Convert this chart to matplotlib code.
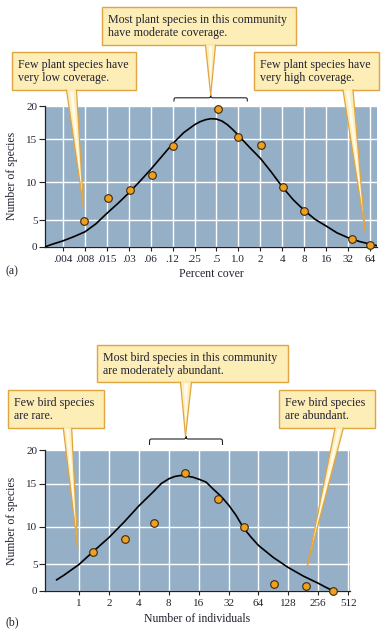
import numpy as np
import matplotlib
matplotlib.use("Agg")
import matplotlib.pyplot as plt
from matplotlib.patches import Rectangle, Polygon, PathPatch
from matplotlib.path import Path

plt.rcParams['font.family'] = ['Liberation Serif', 'DejaVu Serif']

# ---------------- data ----------------
# Panel (a): percent cover
a_tick_vals = [2**-8, 2**-7, 2**-6, 2**-5, 2**-4, 2**-3, 2**-2, 2**-1, 1, 2, 4, 8, 16, 32, 64]
a_tick_labels = [".004", ".008", ".015", ".03", ".06", ".12", ".25", ".5", "1.0",
                 "2", "4", "8", "16", "32", "64"]
a_pts_x = [0.0075, 0.0162, 0.0326, 0.066, 0.125, 0.53, 1.0, 2.04, 4.14, 8.0, 36.3, 64.0]
a_pts_y = [4.83, 7.96, 8.94, 10.85, 14.26, 19.5, 15.3, 14.37, 9.38, 6.23, 1.44, 0.37]
a_curve_log2x = [-8.8, -8.5, -8, -7.5, -7, -6.5, -6, -5.5, -5, -4.5, -4, -3.5, -3, -2.5,
                 -2, -1.75, -1.5, -1.25, -1, -0.75, -0.5, -0.25, 0, 0.5, 1, 1.5, 2, 2.5,
                 3, 3.5, 4, 4.5, 5, 5.5, 6, 6.3]
a_curve_y = [0.0, 0.45, 1.1, 1.9, 2.8, 4.3, 5.9, 7.2, 8.6, 10.1, 11.5, 13.0, 14.5, 16.0,
             17.2, 17.65, 17.95, 18.1, 18.05, 17.75, 17.2, 16.45, 15.6, 14.1, 12.8, 11.2,
             9.4, 7.7, 6.3, 5.1, 3.9, 2.6, 1.7, 1.0, 0.5, 0.2]

# Panel (b): number of individuals
b_tick_vals = [1, 2, 4, 8, 16, 32, 64, 128, 256, 512]
b_tick_labels = ["1", "2", "4", "8", "16", "32", "64", "128", "256", "512"]
b_pts_x = [1.39, 2.91, 5.66, 11.6, 24.9, 46.2, 91.8, 192.7, 357.0]
b_pts_y = [6.66, 8.33, 10.4, 16.55, 13.2, 10.0, 1.25, 0.94, 0.0]
b_curve_log2x = [-0.75, -0.5, 0, 0.5, 1, 1.5, 2, 2.5, 2.75, 3, 3.2, 3.4, 3.6, 3.8, 4,
                 4.25, 4.5, 4.75, 5, 5.25, 5.5, 5.75, 6, 6.5, 7, 7.5, 8, 8.25, 8.46]
b_curve_y = [2.1, 3.0, 5.0, 6.8, 8.55, 10.5, 12.4, 14.1, 15.0, 15.7, 16.05, 16.2, 16.1,
             15.95, 15.65, 15.2, 14.3, 13.5, 12.5, 11.3, 9.8, 8.6, 7.5, 5.9, 4.4, 2.8,
             1.45, 0.7, 0.13]

y_ticks = [0, 5, 10, 15, 20]

# ---------------- styling ----------------
BG = "#95AFC7"
PT_FACE = "#F0A01E"
PT_EDGE = "#3a2a10"
BOX_FACE = "#FDEDB6"
BOX_EDGE = "#E0A540"
TXT = "#222230"

W, H = 388, 633
fig = plt.figure(figsize=(W / 100, H / 100), dpi=100)


def px_axes(x0, y0, x1, y1, **kw):
    return fig.add_axes([x0 / W, 1 - y1 / H, (x1 - x0) / W, (y1 - y0) / H], **kw)


# hand-drawn (non-uniform) vertical scale of the original figure
ref_vals = [0, 5, 10, 15, 20]
ref_pos = [0, 26.6, 64.5, 107.5, 141.0]


def fwd(v):
    return np.interp(v, ref_vals, ref_pos)


def inv(p):
    return np.interp(p, ref_pos, ref_vals)


def style_axes(ax, ticks, labels, xlim, xlabel):
    ax.set_facecolor(BG)
    ax.set_xscale('log', base=2)
    ax.set_yscale('function', functions=(fwd, inv))
    ax.set_xlim(*xlim)
    ax.set_ylim(0, 20)
    ax.set_xticks(ticks)
    ax.set_xticklabels(labels)
    ax.xaxis.set_minor_locator(matplotlib.ticker.NullLocator())
    ax.set_yticks(y_ticks)
    ax.set_yticklabels([str(t) for t in y_ticks])
    ax.yaxis.set_minor_locator(matplotlib.ticker.NullLocator())
    ax.grid(True, color="white", linewidth=1.0)
    ax.set_axisbelow(True)
    for s in ("top", "right"):
        ax.spines[s].set_visible(False)
    for s in ("left", "bottom"):
        ax.spines[s].set_color("#222222")
        ax.spines[s].set_linewidth(0.9)
    ax.tick_params(axis='x', direction='out', length=3, width=0.8, pad=3,
                   labelsize=8, labelcolor=TXT, color="#222222")
    ax.tick_params(axis='y', direction='out', length=4, width=0.8, pad=1.5,
                   labelsize=8, labelcolor=TXT, color="#222222")
    ax.set_xlabel(xlabel, fontsize=8.5, color=TXT, labelpad=3)
    ax.set_ylabel("Number of species", fontsize=8.5, color=TXT, labelpad=6)


ax_a = px_axes(45, 106, 377, 246.7)
style_axes(ax_a, a_tick_vals, a_tick_labels, (2**-8.82, 2**6.32), "Percent cover")
ax_a.plot(np.power(2.0, a_curve_log2x), a_curve_y, color="black", lw=1.2, zorder=3,
          solid_joinstyle='round')
ax_a.plot(a_pts_x, a_pts_y, 'o', ms=5.5, mfc=PT_FACE, mec=PT_EDGE, mew=0.8,
          zorder=4, clip_on=False)

ax_b = px_axes(45, 450, 350, 591)
style_axes(ax_b, b_tick_vals, b_tick_labels, (2**-1.14, 2**9.06), "Number of individuals")
ax_b.plot(np.power(2.0, b_curve_log2x), b_curve_y, color="black", lw=1.2, zorder=3,
          solid_joinstyle='round')
ax_b.plot(b_pts_x, b_pts_y, 'o', ms=5.5, mfc=PT_FACE, mec=PT_EDGE, mew=0.8,
          zorder=4, clip_on=False)

# ---------------- overlay for callouts ----------------
ov = fig.add_axes([0, 0, 1, 1], zorder=10)
ov.set_xlim(0, W)
ov.set_ylim(H, 0)
ov.axis('off')
ov.patch.set_alpha(0)

ov.text(5, 271, "(a)", fontsize=8.5, color=TXT, va='center', ha='left')
ov.text(5, 622, "(b)", fontsize=8.5, color=TXT, va='center', ha='left')


def callout(x0, y0, x1, y1, text, base0, base1, tip):
    ov.add_patch(Rectangle((x0, y0), x1 - x0, y1 - y0, facecolor=BOX_FACE,
                           edgecolor=BOX_EDGE, linewidth=1.0, zorder=2))
    ov.text(x0 + 6, (y0 + y1) / 2 + 0.5, text, fontsize=8.6, color=TXT,
            ha='left', va='center', linespacing=1.1, zorder=5)
    # pointer
    ov.add_patch(Polygon([(base0, y1 - 0.8), (base1, y1 - 0.8), tip], closed=True,
                         facecolor=BOX_FACE, edgecolor='none', zorder=3))
    mid = (base0 + base1) / 2
    ov.add_patch(Polygon([(mid - (base1 - base0) * 0.18, y1 + 1),
                          (mid + (base1 - base0) * 0.18, y1 + 1),
                          (tip[0] * 0.9 + mid * 0.1, tip[1] * 0.9 + y1 * 0.1)],
                         closed=True, facecolor="#FFFBEC", edgecolor='none', zorder=3))
    ov.plot([base0, tip[0]], [y1, tip[1]], color=BOX_EDGE, lw=0.9, zorder=4)
    ov.plot([base1, tip[0]], [y1, tip[1]], color=BOX_EDGE, lw=0.9, zorder=4)


def brace(x0, x1, y_end, y_line, y_peak):
    xc = (x0 + x1) / 2
    r = 3.0
    verts = [(x0, y_end),
             (x0, y_line), (x0, y_line), (x0 + r, y_line),
             (xc - r, y_line),
             (xc - 1, y_line), (xc, y_line), (xc, y_peak),
             (xc, y_line), (xc + 1, y_line), (xc + r, y_line),
             (x1 - r, y_line),
             (x1, y_line), (x1, y_line), (x1, y_end)]
    codes = [Path.MOVETO,
             Path.CURVE4, Path.CURVE4, Path.CURVE4,
             Path.LINETO,
             Path.CURVE4, Path.CURVE4, Path.CURVE4,
             Path.CURVE4, Path.CURVE4, Path.CURVE4,
             Path.LINETO,
             Path.CURVE4, Path.CURVE4, Path.CURVE4]
    ov.add_patch(PathPatch(Path(verts, codes), facecolor='none', edgecolor="#222222",
                           lw=0.8, zorder=2))


# panel (a)
brace(174, 247.3, 101.5, 97.8, 95.0)
callout(101.7, 6.7, 296, 45.3,
        "Most plant species in this community\nhave moderate coverage.",
        205.5, 215.5, (210.7, 95.0))
callout(11.7, 52.3, 136, 90,
        "Few plant species have\nvery low coverage.",
        66.5, 76.5, (83.5, 207))
callout(254.3, 52.3, 379.3, 90,
        "Few plant species have\nvery high coverage.",
        343, 353, (365, 230))

# panel (b)
brace(149.5, 222.5, 445, 439, 436)
callout(96.7, 345, 288.3, 382.3,
        "Most bird species in this community\nare moderately abundant.",
        180.5, 191.5, (185.5, 436))
callout(8.3, 390, 104, 428.3,
        "Few bird species\nare rare.",
        63.3, 71.7, (77.7, 548))
callout(279.3, 390, 375, 428.3,
        "Few bird species\nare abundant.",
        335, 343.3, (307.3, 566))

fig.savefig("out.png", dpi=100)
